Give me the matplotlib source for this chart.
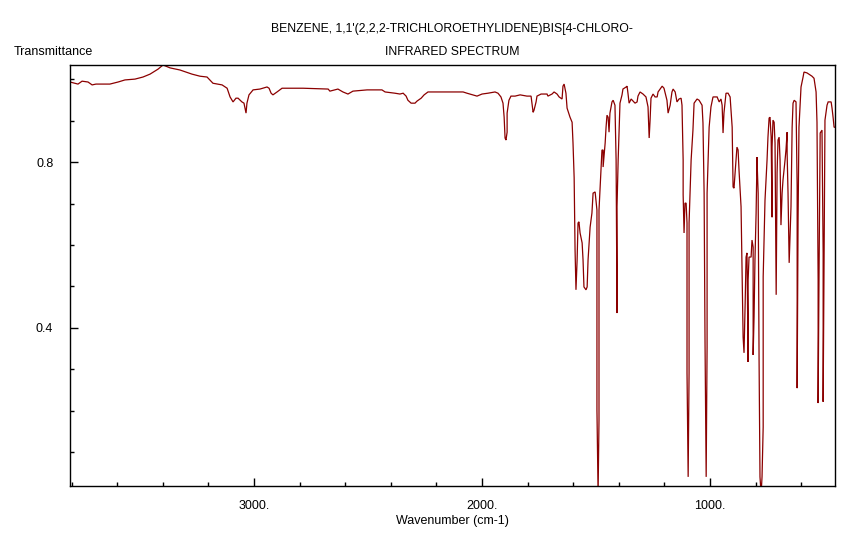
import matplotlib
matplotlib.use("Agg")
import matplotlib.pyplot as plt
from matplotlib.ticker import MultipleLocator, FixedLocator

plt.rcParams['font.family'] = ['Liberation Sans', 'DejaVu Sans']

title = "BENZENE, 1,1'(2,2,2-TRICHLOROETHYLIDENE)BIS[4-CHLORO-"
subtitle = "INFRARED SPECTRUM"
ylabel = "Transmittance"
xlabel = "Wavenumber (cm-1)"

wavenumber = [
    3807, 3772, 3754, 3728, 3710, 3693, 3632, 3596, 3566, 3522, 3487, 3456, 3421, 3399,
    3368, 3325, 3272, 3237, 3206, 3180, 3140, 3118, 3105, 3092, 3079, 3070, 3053, 3044,
    3035, 3031, 3022, 3004, 2974, 2943, 2934, 2925, 2917, 2899, 2877, 2785, 2675, 2667,
    2632, 2610, 2588, 2566, 2504, 2439, 2425, 2382, 2360, 2346, 2333, 2325, 2311, 2294,
    2285, 2267, 2254, 2237, 2175, 2132, 2105, 2083, 2066, 2022, 2000, 1974, 1943, 1930,
    1917, 1908, 1903, 1899, 1895, 1890, 1890, 1882, 1873, 1855, 1833, 1803, 1785, 1781,
    1776, 1772, 1763, 1759, 1741, 1715, 1711, 1693, 1684, 1671, 1662, 1649, 1645, 1640,
    1632, 1627, 1614, 1605, 1601, 1596, 1592, 1588, 1583, 1579, 1575, 1570, 1561, 1557,
    1553, 1544, 1539, 1535, 1526, 1518, 1513, 1504, 1496, 1496, 1491, 1487, 1487, 1478,
    1474, 1469, 1469, 1460, 1456, 1452, 1447, 1443, 1439, 1430, 1425, 1417, 1412, 1408,
    1408, 1403, 1395, 1386, 1382, 1368, 1364, 1360, 1355, 1346, 1329, 1320, 1316, 1307,
    1294, 1281, 1272, 1267, 1263, 1259, 1250, 1241, 1232, 1228, 1210, 1202, 1189, 1184,
    1175, 1167, 1162, 1153, 1145, 1136, 1127, 1123, 1118, 1118, 1114, 1110, 1105, 1101,
    1101, 1096, 1092, 1092, 1083, 1075, 1070, 1057, 1048, 1035, 1031, 1026, 1022, 1017,
    1013, 1013, 1004, 996, 987, 969, 960, 952, 947, 943, 939, 930, 921, 912,
    903, 899, 895, 886, 882, 877, 873, 864, 860, 855, 851, 846, 842, 838,
    833, 833, 829, 820, 816, 811, 811, 807, 803, 798, 794, 794, 789, 785,
    781, 776, 772, 767, 767, 759, 750, 746, 741, 737, 732, 728, 728, 724,
    719, 715, 710, 706, 702, 697, 693, 689, 684, 680, 671, 667, 662, 662,
    658, 653, 645, 640, 636, 631, 623, 618, 618, 614, 610, 601, 592, 588,
    575, 553, 544, 535, 531, 526, 526, 522, 517, 509, 504, 504, 500, 496,
    487, 482, 469, 465, 460, 456, 452,
]

transmittance = [
    0.993, 0.988, 0.995, 0.993, 0.986, 0.988, 0.988, 0.993, 0.998, 1.000, 1.005, 1.012, 1.024, 1.034,
    1.027, 1.022, 1.012, 1.007, 1.005, 0.990, 0.986, 0.978, 0.957, 0.945, 0.954, 0.954, 0.945, 0.942,
    0.918, 0.942, 0.962, 0.974, 0.976, 0.981, 0.978, 0.966, 0.962, 0.969, 0.978, 0.978, 0.976, 0.971,
    0.976, 0.969, 0.964, 0.971, 0.974, 0.974, 0.969, 0.966, 0.964, 0.966, 0.959, 0.949, 0.942, 0.942,
    0.947, 0.954, 0.962, 0.969, 0.969, 0.969, 0.969, 0.969, 0.966, 0.959, 0.964, 0.966, 0.969, 0.966,
    0.957, 0.942, 0.908, 0.858, 0.853, 0.872, 0.918, 0.949, 0.959, 0.959, 0.962, 0.959, 0.959, 0.942,
    0.920, 0.925, 0.945, 0.959, 0.964, 0.964, 0.959, 0.964, 0.969, 0.964, 0.957, 0.952, 0.983, 0.988,
    0.966, 0.930, 0.908, 0.896, 0.846, 0.762, 0.588, 0.492, 0.564, 0.653, 0.656, 0.629, 0.605, 0.564,
    0.499, 0.492, 0.499, 0.564, 0.643, 0.677, 0.725, 0.728, 0.684, 0.202, 0.000, 0.178, 0.684, 0.781,
    0.829, 0.829, 0.788, 0.846, 0.884, 0.913, 0.908, 0.872, 0.918, 0.945, 0.949, 0.937, 0.805, 0.436,
    0.692, 0.805, 0.942, 0.962, 0.976, 0.981, 0.983, 0.966, 0.942, 0.952, 0.942, 0.945, 0.959, 0.969,
    0.964, 0.957, 0.933, 0.858, 0.901, 0.954, 0.964, 0.957, 0.957, 0.969, 0.983, 0.978, 0.949, 0.918,
    0.937, 0.969, 0.976, 0.969, 0.945, 0.952, 0.954, 0.937, 0.805, 0.721, 0.629, 0.701, 0.701, 0.653,
    0.292, 0.041, 0.292, 0.653, 0.805, 0.877, 0.942, 0.952, 0.949, 0.937, 0.894, 0.725, 0.364, 0.041,
    0.354, 0.725, 0.884, 0.933, 0.957, 0.957, 0.945, 0.952, 0.937, 0.870, 0.918, 0.966, 0.966, 0.957,
    0.884, 0.740, 0.737, 0.805, 0.836, 0.829, 0.781, 0.692, 0.557, 0.378, 0.340, 0.460, 0.571, 0.581,
    0.318, 0.516, 0.571, 0.571, 0.612, 0.595, 0.335, 0.427, 0.564, 0.677, 0.812, 0.805, 0.725, 0.323,
    0.041, 0.000, 0.041, 0.161, 0.523, 0.708, 0.805, 0.860, 0.906, 0.908, 0.860, 0.667, 0.836, 0.901,
    0.896, 0.846, 0.480, 0.774, 0.853, 0.860, 0.805, 0.648, 0.725, 0.757, 0.805, 0.829, 0.872, 0.822,
    0.725, 0.557, 0.692, 0.884, 0.942, 0.949, 0.945, 0.740, 0.255, 0.660, 0.884, 0.981, 1.005, 1.017,
    1.015, 1.007, 1.002, 0.969, 0.896, 0.516, 0.219, 0.533, 0.870, 0.877, 0.581, 0.222, 0.564, 0.901,
    0.937, 0.945, 0.945, 0.930, 0.906, 0.884, 0.884,
]

x_major_ticks = [3000, 2000, 1000]
x_tick_labels = ["3000.", "2000.", "1000."]
y_major_ticks = [0.4, 0.8]
y_tick_labels = ["0.4", "0.8"]

fig = plt.figure(figsize=(8.64, 5.36), dpi=100)
ax = fig.add_axes([70/864, 1-486/536, (835-70)/864, (486-65)/536])

ax.plot(wavenumber, transmittance, color='#8b0000', linewidth=0.9, solid_joinstyle='miter')

ax.set_xlim(3807, 452)
ax.set_ylim(0.019, 1.034)

ax.xaxis.set_major_locator(FixedLocator(x_major_ticks))
ax.set_xticklabels(x_tick_labels)
ax.xaxis.set_minor_locator(MultipleLocator(200))
ax.yaxis.set_major_locator(FixedLocator(y_major_ticks))
ax.set_yticklabels(y_tick_labels)
ax.yaxis.set_minor_locator(MultipleLocator(0.1))

ax.tick_params(which='both', direction='in', color='black', width=1.0,
               labelsize=9, top=False, right=False)
ax.tick_params(which='major', length=6, pad=10)
ax.tick_params(which='minor', length=3)
ax.tick_params(axis='y', which='major', pad=12)
for s in ax.spines.values():
    s.set_linewidth(1.0)
    s.set_color('black')

fig.text(452/864, 1-29/536, title, ha='center', va='center', fontsize=8.8)
fig.text(452/864, 1-52/536, subtitle, ha='center', va='center', fontsize=8.8)
fig.text(14/864, 1-52/536, ylabel, ha='left', va='center', fontsize=9)
fig.text(452/864, 1-521/536, xlabel, ha='center', va='center', fontsize=9)

fig.savefig("out.png", dpi=100)
